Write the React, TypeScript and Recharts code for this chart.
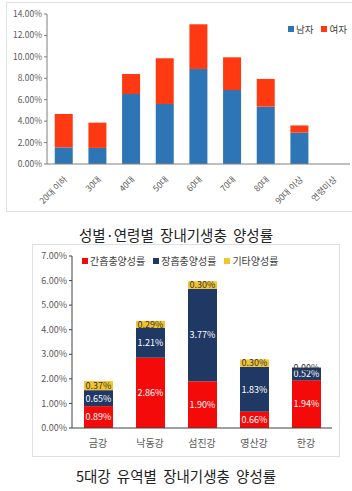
import React from "react";
import { BarChart, Bar, XAxis, YAxis, LabelList } from "recharts";

// 성별·연령별
const ageGroups = ["20대 이하", "30대", "40대", "50대", "60대", "70대", "80대", "90대 이상", "연령미상"];
const maleRates = [1.55, 1.5, 6.54, 5.6, 8.87, 6.9, 5.35, 2.93, 0];
const femaleRates = [3.12, 2.36, 1.86, 4.27, 4.17, 3.06, 2.59, 0.67, 0];
const ageTicks = [0, 2, 4, 6, 8, 10, 12, 14];

// 5대강 유역별
const rivers = ["금강", "낙동강", "섬진강", "영산강", "한강"];
const clonorchisRates = [0.89, 2.86, 1.9, 0.66, 1.94];
const metagonimusRates = [0.65, 1.21, 3.77, 1.83, 0.52];
const otherRates = [0.37, 0.29, 0.3, 0.3, 0.0];
const riverTicks = [0, 1, 2, 3, 4, 5, 6, 7];

const BLUE = "#2E75B6";
const ORANGE_RED = "#FF3A12";
const RED = "#F50A0A";
const NAVY = "#1F3864";
const YELLOW = "#F4C430";
const FONT = "'Noto Sans CJK KR', 'Liberation Sans', sans-serif";

const ageData = ageGroups.map((name, i) => ({ name, male: maleRates[i], female: femaleRates[i] }));
const riverData = rivers.map((name, i) => ({
  name,
  clon: clonorchisRates[i],
  meta: metagonimusRates[i],
  other: otherRates[i],
}));

const pct = (v: number) => `${Number(v).toFixed(2)}%`;

function AgeTick({ x, y, payload }: any) {
  const ax = x + 4;
  const ay = y + 8;
  return (
    <text
      x={ax}
      y={ay}
      transform={`rotate(-45 ${ax} ${ay})`}
      textAnchor="end"
      fontSize={8.5}
      fill="#595959"
      fontFamily={FONT}
    >
      {payload.value}
    </text>
  );
}

// 장흡충 라벨 + 기타가 0인 경우 막대 위쪽 경계에 0.00% 표시
function MetaLabel(props: any) {
  const { x, y, width, height, value, index } = props;
  const cx = x + width / 2;
  return (
    <g>
      <text x={cx} y={y + height / 2} textAnchor="middle" dominantBaseline="central" fill="#fff" fontSize={9} fontFamily={FONT}>
        {pct(value)}
      </text>
      {otherRates[index] === 0 && (
        <text x={cx} y={y} textAnchor="middle" dominantBaseline="central" fill="#333" fontSize={9} fontFamily={FONT}>
          {pct(0)}
        </text>
      )}
    </g>
  );
}

function LegendItems({ items, fontSize }: { items: { label: string; color: string }[]; fontSize: number }) {
  return (
    <div style={{ display: "flex", gap: 8, fontFamily: FONT, fontSize, color: "#404040", whiteSpace: "nowrap" }}>
      {items.map((it) => (
        <span key={it.label} style={{ display: "flex", alignItems: "center", gap: 2 }}>
          <span style={{ width: 6, height: 6, background: it.color, display: "inline-block" }} />
          {it.label}
        </span>
      ))}
    </div>
  );
}

export default function App() {
  return (
    <div style={{ position: "absolute", left: 0, top: 0, width: 352, height: 491, background: "#fff", overflow: "hidden" }}>
      {/* 위 차트 */}
      <div style={{ position: "absolute", left: 6, top: 2, width: 350, height: 210, border: "1px solid #e0e0e0", boxSizing: "border-box" }} />
      <div style={{ position: "absolute", left: 0, top: 0 }}>
        <BarChart width={352} height={212} data={ageData} margin={{ top: 14, right: 2, left: 6, bottom: 0 }} barCategoryGap="23%">
          <YAxis
            domain={[0, 14]}
            ticks={ageTicks}
            tickFormatter={pct}
            width={41}
            tick={{ fontSize: 8.5, fill: "#595959", fontFamily: FONT }}
            axisLine={{ stroke: "#7f7f7f" }}
            tickLine={{ stroke: "#7f7f7f" }}
            tickSize={3}
            interval={0}
          />
          <XAxis
            dataKey="name"
            height={48}
            interval={0}
            tick={<AgeTick />}
            tickLine={false}
            axisLine={{ stroke: "#7f7f7f" }}
          />
          <Bar dataKey="male" stackId="a" fill={BLUE} isAnimationActive={false} />
          <Bar dataKey="female" stackId="a" fill={ORANGE_RED} isAnimationActive={false} />
        </BarChart>
      </div>
      <div style={{ position: "absolute", left: 288, top: 22 }}>
        <LegendItems fontSize={9.5} items={[{ label: "남자", color: BLUE }, { label: "여자", color: ORANGE_RED }]} />
      </div>
      <div style={{ position: "absolute", left: 0, top: 224, width: 352, textAlign: "center", fontFamily: FONT, fontSize: 14.5, color: "#222", wordSpacing: 3 }}>
        성별·연령별 장내기생충 양성률
      </div>

      {/* 아래 차트 */}
      <div style={{ position: "absolute", left: 32, top: 244, width: 308, height: 213, border: "1px solid #e0e0e0", boxSizing: "border-box" }} />
      <div style={{ position: "absolute", left: 32, top: 244 }}>
        <BarChart width={308} height={213} data={riverData} margin={{ top: 12, right: 8, left: 0, bottom: 0 }}>
          <YAxis
            domain={[0, 7]}
            ticks={riverTicks}
            tickFormatter={pct}
            width={40}
            tick={{ fontSize: 9, fill: "#595959", fontFamily: FONT }}
            axisLine={{ stroke: "#404040" }}
            tickLine={{ stroke: "#404040" }}
            tickSize={3}
            interval={0}
          />
          <XAxis
            dataKey="name"
            height={29}
            interval={0}
            tickLine={false}
            axisLine={{ stroke: "#404040" }}
            tick={{ fontSize: 10, fill: "#595959", fontFamily: FONT }}
            tickMargin={6}
          />
          <Bar dataKey="clon" stackId="r" fill={RED} barSize={29} isAnimationActive={false}>
            <LabelList dataKey="clon" position="center" formatter={pct} fill="#fff" fontSize={9} fontFamily={FONT} />
          </Bar>
          <Bar dataKey="meta" stackId="r" fill={NAVY} barSize={29} isAnimationActive={false}>
            <LabelList dataKey="meta" content={<MetaLabel />} />
          </Bar>
          <Bar dataKey="other" stackId="r" fill={YELLOW} barSize={29} isAnimationActive={false}>
            <LabelList dataKey="other" position="center" formatter={pct} fill="#333" fontSize={9} fontFamily={FONT} />
          </Bar>
        </BarChart>
      </div>
      <div style={{ position: "absolute", left: 82, top: 253 }}>
        <LegendItems
          fontSize={10}
          items={[
            { label: "간흡충양성률", color: RED },
            { label: "장흡충양성률", color: NAVY },
            { label: "기타양성률", color: YELLOW },
          ]}
        />
      </div>
      <div style={{ position: "absolute", left: 0, top: 465, width: 352, textAlign: "center", fontFamily: FONT, fontSize: 14.5, color: "#222", wordSpacing: 3 }}>
        5대강 유역별 장내기생충 양성률
      </div>
    </div>
  );
}
